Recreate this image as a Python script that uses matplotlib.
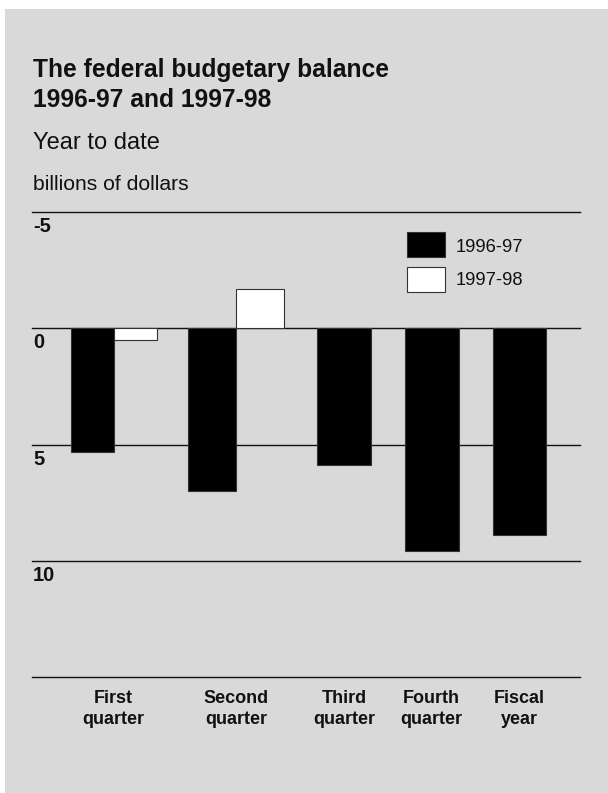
"""
Federal budgetary balance, year to date, 1996-97 vs 1997-98
"""

import matplotlib.pyplot as plt
from matplotlib.patches import Rectangle

plt.rcParams['font.family'] = ['Liberation Sans', 'DejaVu Sans']

categories = ["First\nquarter", "Second\nquarter", "Third\nquarter",
              "Fourth\nquarter", "Fiscal\nyear"]
balance_9697 = [5.3, 7.0, 5.9, 9.6, 8.9]
balance_9798 = [0.5, -1.7, None, None, None]
series_labels = ["1996-97", "1997-98"]
grid_values = [-5, 0, 5, 10, 15]
tick_labels = ["-5", "0", "5", "10"]

# layout (x in pixel-like units across the axes)
centers = [113.5, 236.3, 344.0, 431.5, 519.7]
widths = [43, 48, 54, 54, 53]

W, H = 608, 793
BG = "#d9d9d9"
INK = "#111111"

fig = plt.figure(figsize=(W / 100, H / 100), dpi=100)
fig.patch.set_facecolor("white")
fig.patches.append(Rectangle((5 / W, 0), 1, 1 - 9 / H, transform=fig.transFigure,
                             facecolor=BG, edgecolor="none", zorder=-10))

ax_left, ax_right = 32, 580
ax_top, ax_bot = 212.3, 676.8
ax = fig.add_axes([ax_left / W, 1 - ax_bot / H, (ax_right - ax_left) / W,
                   (ax_bot - ax_top) / H])
ax.set_facecolor("none")
ax.set_xlim(ax_left, ax_right)
ax.set_ylim(15, -5)
for s in ax.spines.values():
    s.set_visible(False)
ax.set_yticks([])

for g in grid_values:
    ax.axhline(g, color=INK, lw=1.0, zorder=1, clip_on=False)

for lbl, v in zip(tick_labels, grid_values):
    ax.annotate(lbl, xy=(0, v), xycoords=ax.get_yaxis_transform(),
                xytext=(1, -20), textcoords="offset pixels", va="baseline",
                ha="left", fontsize=14.5, fontweight="bold", color=INK)

for c, w, a, b in zip(centers, widths, balance_9697, balance_9798):
    if b is None:
        ax.bar(c, a, width=w, color="black", edgecolor="#333333", lw=0.8, zorder=3)
    else:
        ax.bar(c - w / 2, a, width=w, color="black", edgecolor="#333333", lw=0.8, zorder=3)
        ax.bar(c + w / 2, b, width=w, color="white", edgecolor="#333333", lw=0.8, zorder=3)

ax.set_xticks(centers)
ax.set_xticklabels(categories, fontsize=13, fontweight="bold", color=INK,
                   linespacing=1.3)
ax.tick_params(axis="x", length=0, pad=9.5)

# legend drawn as boxes in figure pixels
leg_y = [(231.7, 257.3), (267.3, 292.0)]
leg_base = [251.7, 285.0]
for (y0, y1), fc, lab, yb in zip(leg_y, ["black", "white"], series_labels, leg_base):
    fig.patches.append(Rectangle((407.3 / W, 1 - y1 / H), 37.7 / W, (y1 - y0) / H,
                                 transform=fig.transFigure, facecolor=fc,
                                 edgecolor="#333333", lw=0.8))
    fig.text(456 / W, 1 - yb / H, lab, fontsize=13.2, color=INK, va="baseline")

fig.text(33 / W, 1 - 77.3 / H, "The federal budgetary balance", fontsize=17.7,
         fontweight="bold", color=INK, va="baseline")
fig.text(33 / W, 1 - 107.3 / H, "1996-97 and 1997-98", fontsize=17.7,
         fontweight="bold", color=INK, va="baseline")
fig.text(33 / W, 1 - 149 / H, "Year to date", fontsize=17, color=INK, va="baseline")
fig.text(33 / W, 1 - 190 / H, "billions of dollars", fontsize=15.2, color=INK,
         va="baseline")

fig.savefig("out.png", dpi=100, facecolor=fig.get_facecolor())
